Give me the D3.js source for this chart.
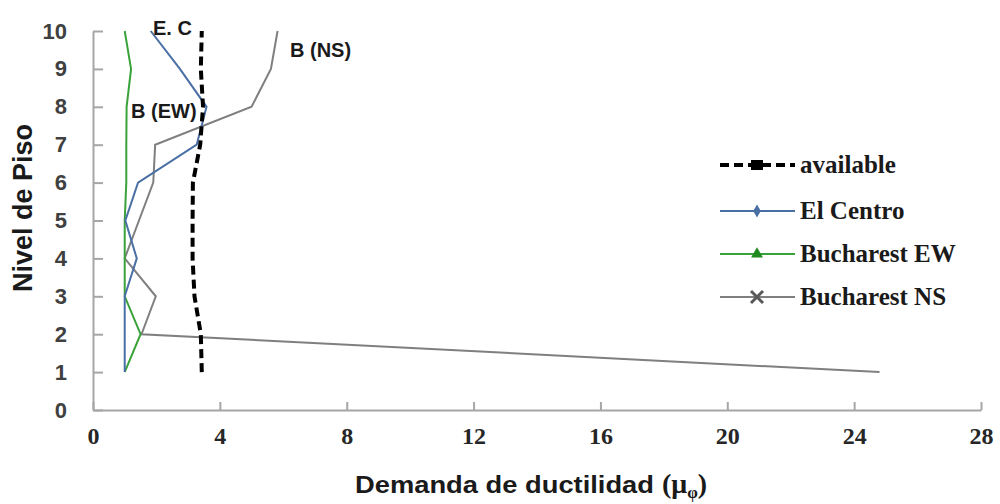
<!DOCTYPE html>
<html>
<head>
<meta charset="utf-8">
<script src="https://cdn.jsdelivr.net/npm/d3@7"></script>
<style>
	body { margin: 0; background: #fff; }
	.axis path, .axis line { stroke: #a6a6a6; stroke-width: 2; }
	.axis--y text { font-family: "Liberation Sans", Arial, sans-serif; font-size: 22px; font-weight: bold; fill: #404040; }
	.axis--x text { font-family: "Liberation Serif", "Times New Roman", serif; font-size: 24px; font-weight: bold; fill: #262626; }
	.line { fill: none; }
	.note { font-family: "Liberation Sans", Arial, sans-serif; font-size: 20px; font-weight: bold; fill: #1a1a1a; }
	.legend text { font-family: "Liberation Serif", "Times New Roman", serif; font-size: 25px; font-weight: bold; fill: #1a1a1a; }
	.title { font-family: "Liberation Sans", Arial, sans-serif; font-weight: bold; fill: #1a1a1a; }
</style>
</head>
<body>
<div class="svg-container"></div>
<script>
// floor levels and ductility demand per series
var levels = [1, 2, 3, 4, 5, 6, 7, 8, 9, 10];
var available = [3.43, 3.40, 3.20, 3.14, 3.14, 3.15, 3.38, 3.47, 3.40, 3.43];
var elCentro = [1.0, 1.0, 1.0, 1.38, 1.02, 1.42, 3.27, 3.58, 2.74, 1.82];
var bucharestEW = [1.0, 1.5, 1.0, 1.0, 1.0, 1.05, 1.05, 1.06, 1.2, 1.0];
var bucharestNS = [24.8, 1.53, 1.98, 1.0, 1.45, 1.9, 1.96, 5.0, 5.61, 5.82];

var seriesNames = ['available', 'El Centro', 'Bucharest EW', 'Bucharest NS'];
var xTicks = [0, 4, 8, 12, 16, 20, 24, 28];
var yTicks = [0, 1, 2, 3, 4, 5, 6, 7, 8, 9, 10];
var notes = ['E. C', 'B (NS)', 'B (EW)'];

var width = 1000, height = 504;

var svg = d3.select('.svg-container')
	.append('svg')
	.attr('width', width)
	.attr('height', height);

var xScale = d3.scaleLinear().domain([0, 28]).range([93, 981]);
var yScale = d3.scaleLinear().domain([0, 10]).range([410, 31]);

var xAxis = d3.axisBottom(xScale)
	.tickValues(xTicks)
	.tickSizeInner(-8)
	.tickSizeOuter(0)
	.tickPadding(17);

var yAxis = d3.axisLeft(yScale)
	.tickValues(yTicks)
	.tickSizeInner(-10)
	.tickSizeOuter(0)
	.tickPadding(26);

svg.append('g')
	.attr('class', 'axis axis--x')
	.attr('transform', 'translate(0,' + yScale(0) + ')')
	.call(xAxis);

svg.append('g')
	.attr('class', 'axis axis--y')
	.attr('transform', 'translate(' + xScale(0) + ',0)')
	.call(yAxis);

var series = [
	{ name: seriesNames[0], values: available, color: '#000', width: 4, dash: '9,5' },
	{ name: seriesNames[1], values: elCentro, color: '#4a6fa5', width: 2, dash: null },
	{ name: seriesNames[2], values: bucharestEW, color: '#3aa23a', width: 2, dash: null },
	{ name: seriesNames[3], values: bucharestNS, color: '#7f7f7f', width: 2, dash: null }
];

var line = d3.line()
	.x(function(d) { return xScale(d[0]); })
	.y(function(d) { return yScale(d[1]); });

// draw bottom-up so the dashed "available" line sits on top
series.slice().reverse().forEach(function(s) {
	svg.append('path')
		.datum(levels.map(function(l, i) { return [s.values[i], l]; }))
		.attr('class', 'line')
		.attr('stroke', s.color)
		.attr('stroke-width', s.width)
		.attr('stroke-dasharray', s.dash)
		.attr('d', line);
});

// labels on the curves
svg.append('text').attr('class', 'note').attr('x', 153).attr('y', 35).text(notes[0]);
svg.append('text').attr('class', 'note').attr('x', 290).attr('y', 57).text(notes[1]);
svg.append('text').attr('class', 'note').attr('x', 131).attr('y', 118).text(notes[2]);

// legend
var legend = svg.append('g').attr('class', 'legend');
var rowY = [165, 211, 254, 297];

series.forEach(function(s, i) {
	var g = legend.append('g').attr('transform', 'translate(720,' + rowY[i] + ')');
	g.append('line')
		.attr('x1', 0).attr('x2', 75)
		.attr('stroke', s.color)
		.attr('stroke-width', s.width)
		.attr('stroke-dasharray', s.dash);
	if (i === 0) {
		g.append('rect').attr('x', 31).attr('y', -5).attr('width', 12).attr('height', 10).attr('fill', s.color);
	} else if (i === 1) {
		g.append('path').attr('d', d3.symbol(d3.symbolDiamond, 50)()).attr('transform', 'translate(37,0)').attr('fill', s.color);
	} else if (i === 2) {
		g.append('path').attr('d', d3.symbol(d3.symbolTriangle, 60)()).attr('transform', 'translate(37,0)').attr('fill', '#1f8a1f');
	} else {
		g.append('path').attr('d', 'M-6,-6L6,6M-6,6L6,-6').attr('transform', 'translate(37,0)')
			.attr('stroke', '#595959').attr('stroke-width', 3).attr('fill', 'none');
	}
	g.append('text').attr('x', 80).attr('y', 8).text(s.name);
});

// axis titles
svg.append('text')
	.attr('class', 'title')
	.attr('transform', 'translate(32,208) rotate(-90)')
	.attr('text-anchor', 'middle')
	.style('font-size', '27px')
	.text('Nivel de Piso');

svg.append('text')
	.attr('class', 'title')
	.attr('x', 355).attr('y', 493)
	.attr('textLength', 299)
	.attr('lengthAdjust', 'spacingAndGlyphs')
	.style('font-size', '24px')
	.text('Demanda de ductilidad');

var mu = svg.append('text')
	.attr('x', 662).attr('y', 493)
	.style('font-family', '"Liberation Serif", serif')
	.style('font-weight', 'bold')
	.style('font-size', '28px')
	.attr('fill', '#1a1a1a');
mu.append('tspan').text('(\u03bc');
mu.append('tspan').attr('dy', 5).style('font-size', '17px').text('\u03c6');
mu.append('tspan').attr('dy', -5).text(')');
</script>
</body>
</html>
